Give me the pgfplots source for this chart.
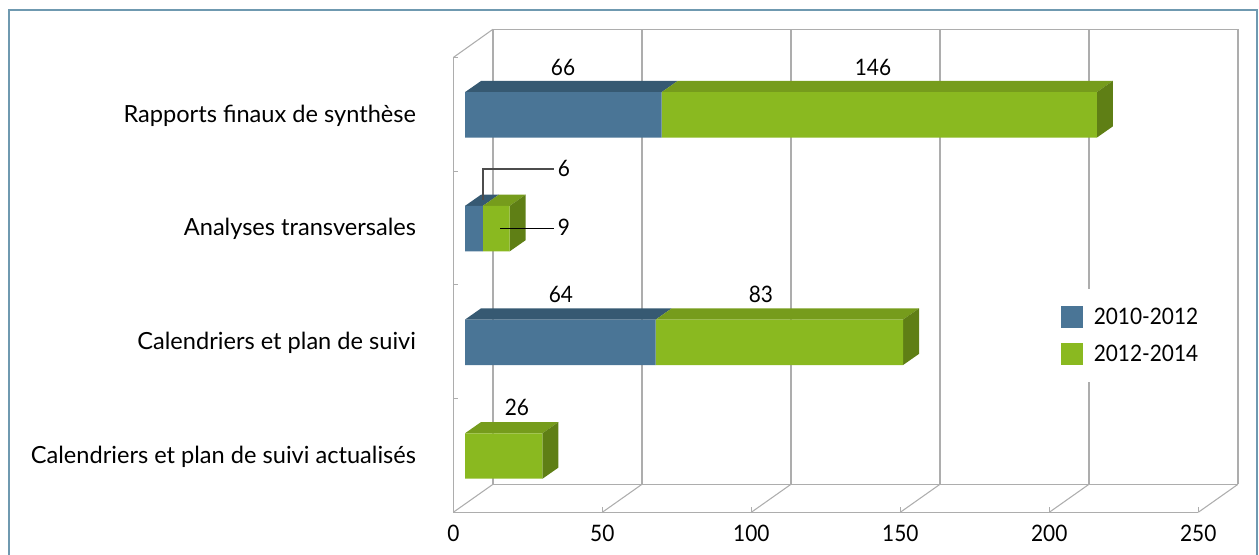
\documentclass[border=0pt]{standalone}
\usepackage{fontspec}
\setmainfont{Lato}
\newfontfamily\numfont[FakeStretch=0.92]{Lato}
\usepackage{pgfplots}
\pgfplotsset{compat=1.18}
\definecolor{bluefront}{HTML}{4A7596}
\definecolor{bluetop}{HTML}{365972}
\definecolor{greenfront}{HTML}{8AB920}
\definecolor{greentop}{HTML}{769C1C}
\definecolor{greenside}{HTML}{5F7F15}
\definecolor{wall}{HTML}{ADADAD}
\definecolor{frameblue}{HTML}{6F99B0}
\newcommand{\numsize}{\numfont\fontsize{17}{19}\selectfont}

% 1 px of the reference = 0.75pt
\pgfplotsset{
  walls/.style={
    at={(339.975pt,32.025pt)}, anchor=south west,
    scale only axis, width=588.75pt, height=362.25pt,
    xmin=-3.93, xmax=259.5, ymin=-0.495, ymax=3.753,
    clip=false,
  },
  face/.style={fill=#1, draw=none, forget plot},
}
\tikzset{lab/.style={font=\numsize, text=black, inner sep=0pt}}

\begin{document}
\begin{tikzpicture}
\path[use as bounding box] (0,0) rectangle (944.25pt,416.25pt);
\draw[frameblue, line width=1.5pt] (6.75pt,-5pt) -- (6.75pt,408.75pt) -- (942.75pt,408.75pt) -- (942.75pt,-5pt);

% walls, floor, top and side faces of the bars
\begin{axis}[
  walls,
  axis x line*=bottom, axis y line*=left,
  axis line style={draw=none},
  tick style={wall, line width=0.8pt},
  major tick length=3.75pt,
  xtick={-3.93,46.07,96.07,146.07,196.07,246.07},
  xticklabels={0,50,100,150,200,250},
  x tick label style={font=\numsize, text=black, yshift=-6pt},
  ytick={-0.495,0.505,1.505,2.505,3.505},
  yticklabels={},
  extra y ticks={0,1,2,3},
  extra y tick labels={Calendriers et plan de suivi actualisés,Calendriers et plan de suivi,Analyses transversales,Rapports finaux de synthèse},
  extra y tick style={tick style={draw=none}},
  y tick label style={font=\fontsize{17.7}{20}\selectfont, text=black, anchor=base east, inner sep=0pt, xshift=-27.75pt, yshift=-5.4pt},
  unbounded coords=jump,
]
\addplot[wall, line width=1.1pt, forget plot] coordinates {
  (-3.93,-0.495) (246.07,-0.495) (nan,nan)
  (-3.93,-0.495) (-3.93,3.505) (nan,nan)
  (9.37,-0.249) (259.37,-0.249) (nan,nan)
  (9.37,3.753) (259.37,3.753) (nan,nan)
  (9.37,-0.249) (9.37,3.753) (nan,nan)
  (59.37,-0.249) (59.37,3.753) (nan,nan)
  (109.37,-0.249) (109.37,3.753) (nan,nan)
  (159.37,-0.249) (159.37,3.753) (nan,nan)
  (209.37,-0.249) (209.37,3.753) (nan,nan)
  (259.37,-0.249) (259.37,3.753)
};
\addplot[wall, line width=0.8pt, forget plot] coordinates {
  (-3.93,3.505) (9.37,3.753) (nan,nan)
  (-3.93,-0.495) (9.37,-0.249) (nan,nan)
  (46.07,-0.495) (59.37,-0.249) (nan,nan)
  (96.07,-0.495) (109.37,-0.249) (nan,nan)
  (146.07,-0.495) (159.37,-0.249) (nan,nan)
  (196.07,-0.495) (209.37,-0.249) (nan,nan)
  (246.07,-0.495) (259.37,-0.249)
};
% Rapports finaux de synthese
\addplot[face=bluetop] coordinates {(0,3.2) (66,3.2) (71.37,3.2985) (5.37,3.2985)} -- cycle;
\addplot[face=greentop] coordinates {(66,3.2) (212,3.2) (217.37,3.2985) (71.37,3.2985)} -- cycle;
\addplot[face=greenside] coordinates {(212,3.2) (217.37,3.2985) (217.37,2.8985) (212,2.8)} -- cycle;
% Analyses transversales
\addplot[face=bluetop] coordinates {(0,2.2) (6,2.2) (11.37,2.2985) (5.37,2.2985)} -- cycle;
\addplot[face=greentop] coordinates {(6,2.2) (15,2.2) (20.37,2.2985) (11.37,2.2985)} -- cycle;
\addplot[face=greenside] coordinates {(15,2.2) (20.37,2.2985) (20.37,1.8985) (15,1.8)} -- cycle;
% Calendriers et plan de suivi
\addplot[face=bluetop] coordinates {(0,1.2) (64,1.2) (69.37,1.2985) (5.37,1.2985)} -- cycle;
\addplot[face=greentop] coordinates {(64,1.2) (147,1.2) (152.37,1.2985) (69.37,1.2985)} -- cycle;
\addplot[face=greenside] coordinates {(147,1.2) (152.37,1.2985) (152.37,0.8985) (147,0.8)} -- cycle;
% Calendriers et plan de suivi actualises
\addplot[face=greentop] coordinates {(0,0.2) (26,0.2) (31.37,0.2985) (5.37,0.2985)} -- cycle;
\addplot[face=greenside] coordinates {(26,0.2) (31.37,0.2985) (31.37,-0.1015) (26,-0.2)} -- cycle;
\end{axis}

% front faces of the bars and legend
\begin{axis}[
  walls,
  hide axis,
  xbar stacked,
  bar width=34.05pt,
  legend style={
    at={(0.8633,0.366)}, anchor=center,
    draw=none, fill=white,
    inner xsep=9pt, inner ysep=12.5pt,
    row sep=9.75pt,
    font=\numsize,
    /tikz/every odd column/.append style={column sep=6pt},
  },
  legend cell align=left,
  legend image code/.code={
    \fill[#1] (0pt,-8.25pt) rectangle (16.5pt,8.25pt);
  },
]
\addplot[fill=bluefront, draw=none] coordinates {(66,3) (6,2) (64,1) (0,0)};
\addplot[fill=greenfront, draw=none] coordinates {(146,3) (9,2) (83,1) (26,0)};
\legend{2010-2012,2012-2014}
\end{axis}

% value labels and their leader lines, above the bars
\begin{axis}[walls, hide axis]
\addplot[black!70, line width=1.2pt, forget plot] coordinates {(5.94,2.252) (5.94,2.524) (29.87,2.524)};
\addplot[black, line width=0.8pt, forget plot] coordinates {(11.74,2.0) (29.87,2.0)};
\node[lab] at (axis cs:32.9,3.42) {66};
\node[lab] at (axis cs:136.9,3.42) {146};
\node[lab] at (axis cs:33.2,2.525) {6};
\node[lab] at (axis cs:33.2,2.01) {9};
\node[lab] at (axis cs:32.2,1.425) {64};
\node[lab] at (axis cs:99.3,1.425) {83};
\node[lab] at (axis cs:17.4,0.425) {26};
\end{axis}
\end{tikzpicture}
\end{document}
